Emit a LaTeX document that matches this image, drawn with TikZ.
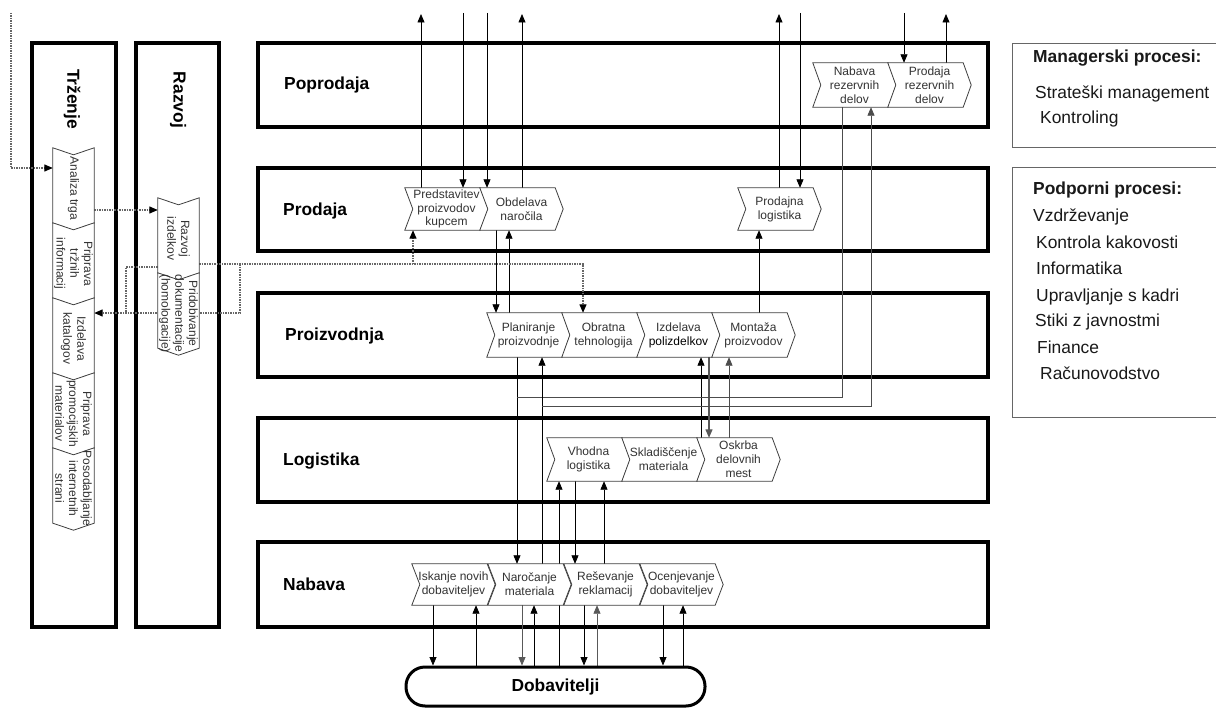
\documentclass[tikz,border=0pt]{standalone}
\usepackage{fontspec}
\setmainfont{Liberation Sans}
\usetikzlibrary{arrows.meta,calc}
\pgfdeclarelayer{bg}
\pgfsetlayers{bg,main}
\tikzset{
 lane/.style={draw=black, line width=3.2pt},
 chevbody/.style={draw=none, inner sep=0pt, minimum width=75pt},
 chevline/.style={draw=black!75, fill=white, line width=0.8pt},
 chevtext/.style={font=\fontsize{12}{13.8}\selectfont, text=black!80, align=center, inner sep=0pt},
 lanelabel/.style={font=\fontsize{17.4}{20}\selectfont\bfseries, anchor=base west, inner sep=0pt},
 boxtext/.style={font=\fontsize{17.4}{20}\selectfont, anchor=base west, inner sep=0pt, text=black!90},
 flow/.style={draw=black, line width=0.8pt},
 arr/.style={flow, -{Triangle[length=8.5pt,width=7pt]}},
 dotl/.style={draw=black!60, line width=1.2pt, dash pattern=on 1.5pt off 1pt},
 darr/.style={dotl, -{Triangle[length=8.5pt,width=7pt,color=black]}},
}
\newcommand{\chevh}[5]{%
  \node[chevbody, minimum height=#4pt] (#1) at (#2+37.5, #3+#4/2) {};
  \path[chevline] (#1.north west) -- (#1.north east) -- ([xshift=8pt]#1.east) -- (#1.south east) -- (#1.south west) -- ([xshift=8pt]#1.west) -- cycle;
  \node[chevtext] (#1t) at ([xshift=4pt]#1.center) {#5};
}
\newcommand{\chevv}[4]{%
  \node[chevbody, minimum width=41pt, minimum height=75pt] (#1) at (#2, #3+37.5) {};
  \path[chevline] (#1.north west) -- ([yshift=-7pt]#1.north) -- (#1.north east) -- (#1.south east) -- ([yshift=-7pt]#1.south) -- (#1.south west) -- cycle;
  \node[chevtext, rotate=-90] (#1t) at ([yshift=-3pt]#1.center) {#4};
}
\begin{document}
\begin{tikzpicture}[x=1pt,y=-1pt]
\useasboundingbox (0,0) rectangle (1216,709);
\begin{pgfonlayer}{bg}
\fill[white] (0,0) rectangle (1216,709);
% lanes
\draw[lane] (32,43) rectangle (116,627);
\draw[lane] (136,43) rectangle (219,627);
\draw[lane] (258,43) rectangle (988,127);
\draw[lane] (258,168) rectangle (988,251);
\draw[lane] (258,293) rectangle (988,377);
\draw[lane] (258,418) rectangle (988,502);
\draw[lane] (258,542) rectangle (988,627);
\end{pgfonlayer}

% titles
\node[font=\fontsize{17.4}{20}\selectfont\bfseries, rotate=-90, inner sep=0pt] (tzt) at (72,99) {Trženje};
\node[font=\fontsize{17.4}{20}\selectfont\bfseries, rotate=-90, inner sep=0pt] (rzt) at (178,100) {Razvoj};
\node[lanelabel] (lpop) at (284,89) {Poprodaja};
\node[lanelabel] (lpro) at (283,215) {Prodaja};
\node[lanelabel] (lpiz) at (285,340) {Proizvodnja};
\node[lanelabel] (llog) at (283,465) {Logistika};
\node[lanelabel] (lnab) at (283,590) {Nabava};

% vertical chevrons
\chevv{tan}{73.5}{148}{Analiza trga}
\chevv{tpr}{73.5}{223}{Priprava\\tržnih\\informacij}
\chevv{tkat}{73.5}{298}{Izdelava\\katalogov}
\chevv{tpm}{73.5}{373}{Priprava\\promocijskih\\materialov}
\chevv{tpos}{73.5}{448}{Posodabljanje\\internetnih\\strani}
\chevv{razi}{178.5}{198}{Razvoj\\izdelkov}
\chevv{rpri}{178.5}{273}{Pridobivanje\\dokumentacije\\(homologacije)}

% horizontal chevrons
\chevh{nrd}{813}{63}{44}{Nabava\\rezervnih\\delov}
\chevh{prr}{888}{63}{44}{Prodaja\\rezervnih\\delov}
\chevh{pred}{405}{188}{42}{Predstavitev\\proizvodov\\kupcem}
\chevh{obd}{480}{188}{42}{Obdelava\\naročila}
\chevh{plog}{738}{188}{42}{Prodajna\\logistika}
\chevh{plan}{487}{313}{44}{Planiranje\\proizvodnje}
\chevh{obr}{562}{313}{44}{Obratna\\tehnologija}
\chevh{izd}{637}{313}{44}{Izdelava\\{\color{black}polizdelkov}}
\chevh{mont}{712}{313}{44}{Montaža\\proizvodov}
\chevh{vhod}{547}{438}{43}{Vhodna\\logistika}
\chevh{skl}{622}{438}{43}{Skladiščenje\\materiala}
\chevh{osk}{697}{438}{43}{Oskrba\\delovnih\\mest}
\chevh{isk}{412}{564}{41}{Iskanje novih\\dobaviteljev}
\chevh{nar}{488}{564}{41}{Naročanje\\materiala}
\chevh{res}{564}{564}{41}{Reševanje\\reklamacij}
\chevh{oce}{640}{564}{41}{Ocenjevanje\\dobaviteljev}

% Dobavitelji
\node[draw, line width=3pt, rounded corners=19pt, minimum width=299pt, minimum height=39pt, inner sep=0pt, font=\fontsize{17.4}{20}\selectfont\bfseries] (dob) at (555.5,686.5) {Dobavitelji};

% right boxes
\draw[black!60, line width=0.9pt] (1225,43) -- (1012,43) -- (1012,147) -- (1225,147);
\draw[black!60, line width=0.9pt] (1225,167) -- (1012,167) -- (1012,417) -- (1225,417);
\node[boxtext, font=\fontsize{17.4}{20}\selectfont\bfseries] (mp) at (1033,63) {Managerski procesi:};
\node[boxtext] (mp1) at (1035,99) {Strateški management};
\node[boxtext] (mp2) at (1040,123) {Kontroling};
\node[boxtext, font=\fontsize{17.4}{20}\selectfont\bfseries] (pp) at (1033,194) {Podporni procesi:};
\node[boxtext] (pp1) at (1033,221) {Vzdrževanje};
\node[boxtext] (pp2) at (1036,248) {Kontrola kakovosti};
\node[boxtext] (pp3) at (1036,274) {Informatika};
\node[boxtext] (pp4) at (1036,301) {Upravljanje s kadri};
\node[boxtext] (pp5) at (1035,326) {Stiki z javnostmi};
\node[boxtext] (pp6) at (1037,353) {Finance};
\node[boxtext] (pp7) at (1040,379) {Računovodstvo};

% coordinates
\coordinate (u1) at (421,14);
\coordinate (u2) at (463,13);
\coordinate (u3) at (487,13);
\coordinate (u4) at (522,14);
\coordinate (u5) at (779,14);
\coordinate (u6) at (800,13);
\coordinate (u7) at (904,13);
\coordinate (u8) at (946,14);
\foreach \v in {496,509,759,701,709,729,517,542,559,575,604,433,476,522,534,584,597,663,683,413,583}{\coordinate (x\v) at (\v,0);}
\coordinate (k1) at (842,397);
\coordinate (k2) at (517,397);
\coordinate (k3) at (542,406);
\coordinate (k4) at (871,406);
\coordinate (d1) at (583,264);
\coordinate (d2) at (413,264);
\coordinate (d3) at (240,264);
\coordinate (d4) at (240,313);
\coordinate (d5) at (126,267);
\coordinate (d6) at (126,313);
\coordinate (d7) at (11,13);
\coordinate (d8) at (11,168);

\begin{pgfonlayer}{bg}
% top
\draw[arr] (pred.north -| u1) -- (u1);
\draw[arr] (u2) -- (pred.north -| u2);
\draw[arr] (u3) -- (obd.north -| u3);
\draw[arr] (obd.north -| u4) -- (u4);
\draw[arr] (plog.north -| u5) -- (u5);
\draw[arr] (u6) -- (plog.north -| u6);
\draw[arr] (u7) -- (prr.north -| u7);
\draw[arr] (prr.north -| u8) -- (u8);
% prodaja - proizvodnja
\draw[arr] (obd.south -| x496) -- (plan.north -| x496);
\draw[arr] (plan.north -| x509) -- (obd.south -| x509);
\draw[arr] (mont.north -| x759) -- (plog.south -| x759);
% proizvodnja - logistika
\draw[arr] (osk.north -| x701) -- (izd.south -| x701);
\draw[arr, draw=black!65, line width=1.2pt] (izd.south -| x709) -- (osk.north -| x709);
\draw[arr, draw=black!70] (osk.north -| x729) -- (mont.south -| x729);
% loops
\draw[arr] (plan.south -| x517) -- (nar.north -| x517);
\draw[flow, draw=black!70] (nrd.south -| k1) -- (k1) -- (k2);
\draw[arr] (nar.north -| x542) -- (plan.south -| x542);
\draw[arr, draw=black!70] (k3) -- (k4) -- (nrd.south -| k4);
% logistika - nabava
\draw[arr] (dob.north -| x559) -- (vhod.south -| x559);
\draw[arr] (vhod.south -| x575) -- (res.north -| x575);
\draw[arr] (res.north -| x604) -- (vhod.south -| x604);
% nabava - dobavitelji
\draw[arr] (isk.south -| x433) -- (dob.north -| x433);
\draw[arr] (dob.north -| x476) -- (isk.south -| x476);
\draw[arr, draw=black!65] (nar.south -| x522) -- (dob.north -| x522);
\draw[arr] (dob.north -| x534) -- (nar.south -| x534);
\draw[arr] (res.south -| x584) -- (dob.north -| x584);
\draw[arr, draw=black!65] (dob.north -| x597) -- (res.south -| x597);
\draw[arr] (oce.south -| x663) -- (dob.north -| x663);
\draw[arr] (dob.north -| x683) -- (oce.south -| x683);
% dotted
\draw[darr] (razi.east |- d1) -- (d1) -- (obr.north -| d1);
\draw[darr] (d2) -- (pred.south -| d2);
\draw[darr] (d3) -- (d4) -- (tkat.east |- d4);
\draw[dotl] (razi.west |- d5) -- (d5) -- (d6);
\draw[darr] (tan.east |- 0,210) -- (razi.west |- 0,210);
\draw[darr] (d7) -- (d8) -- (tan.west |- d8);
\end{pgfonlayer}
\end{tikzpicture}
\end{document}
